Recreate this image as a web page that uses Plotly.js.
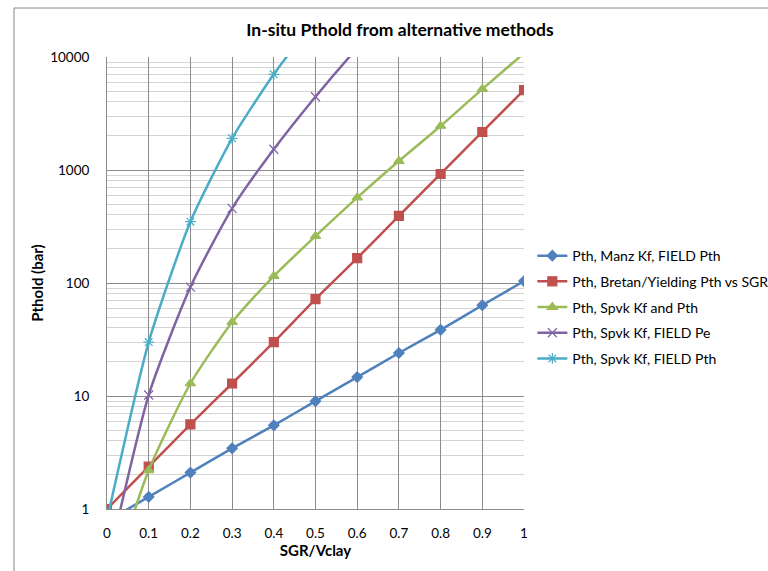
<!DOCTYPE html>
<html>
<head>
<meta charset="utf-8">
<script src="https://cdn.plot.ly/plotly-3.0.1.min.js"></script>
<style>html,body{margin:0;padding:0;background:#fff;}#chart{width:768px;height:571px;}</style>
</head>
<body>
<div id="chart"></div>
<script>
const sgr = [0, 0.1, 0.2, 0.3, 0.4, 0.5, 0.6, 0.7, 0.8, 0.9, 1];
const manzField = [0.78, 1.28, 2.1, 3.44, 5.5, 9.0, 14.7, 24, 38.5, 63.5, 104];
const bretanYielding = [1, 2.37, 5.6, 12.9, 30, 72, 166, 392, 922, 2170, 5100];
const spvkKfPth = [0.17, 2.2, 12.9, 45, 115, 260, 570, 1200, 2450, 5200, 10800];
const spvkFieldPe = [0.3, 10.2, 92, 458, 1525, 4450, 12000, 30000, 70000, 160000, 350000];
const spvkFieldPth = [0.8, 30, 349, 1906, 7030, 21000, 55000, 130000, 300000, 650000, 1400000];
const seriesNames = ['Pth, Manz Kf, FIELD Pth', 'Pth, Bretan/Yielding Pth vs SGR', 'Pth, Spvk Kf and Pth', 'Pth, Spvk Kf, FIELD Pe', 'Pth, Spvk Kf, FIELD Pth'];
const yTickVals = [1, 10, 100, 1000, 10000];
const yTickText = ['1', '10', '100', '1000', '10000'];
const xTickVals = [0, 0.1, 0.2, 0.3, 0.4, 0.5, 0.6, 0.7, 0.8, 0.9, 1];
const xTickText = ['0', '0.1', '0.2', '0.3', '0.4', '0.5', '0.6', '0.7', '0.8', '0.9', '1'];

const colors = ['#4F81BD', '#C0504D', '#9BBB59', '#8064A2', '#4BACC6'];
const symbols = ['diamond', 'square', 'triangle-up', 'x-thin-open', 'asterisk-open'];
const sizes = [8, 9, 9, 9, 9];
const allY = [manzField, bretanYielding, spvkKfPth, spvkFieldPe, spvkFieldPth];

const traces = allY.map((y, i) => ({
  x: sgr, y: y, name: seriesNames[i], type: 'scatter', mode: 'lines+markers',
  line: {color: colors[i], width: 2.5, shape: 'spline', smoothing: 0.6},
  marker: {symbol: symbols[i], size: sizes[i], color: colors[i], line: {color: colors[i], width: 1.2}},
  legendgroup: 'g' + i, cliponaxis: true
}));

const font = 'Lato, "Open Sans", "Liberation Sans", sans-serif';
const layout = {
  width: 768, height: 571,
  margin: {l: 107, r: 244, t: 57, b: 62, autoexpand: false},
  paper_bgcolor: '#fff', plot_bgcolor: '#fff',
  font: {family: font, size: 13, color: '#000'},
  title: {text: '<b>In-situ Pthold from alternative methods</b>', font: {family: font, size: 17.5, color: '#000'}, x: 400/768, xanchor: 'center', y: 1 - 30/571, yanchor: 'middle'},
  xaxis: {
    range: [0, 1], tickvals: xTickVals, ticktext: xTickText,
    showgrid: true, gridcolor: '#8c8c8c', gridwidth: 1,
    showline: true, linecolor: '#8c8c8c', linewidth: 1, mirror: false,
    zeroline: false, ticks: '', ticklabelstandoff: 12,
    tickfont: {family: font, size: 13.5, color: '#000'},
    title: {text: '<b>SGR/Vclay</b>', font: {family: font, size: 15, color: '#000'}, standoff: 5}
  },
  yaxis: {
    type: 'log', range: [0, 4], tickvals: yTickVals, ticktext: yTickText,
    showgrid: true, gridcolor: '#8c8c8c', gridwidth: 1,
    minor: {showgrid: true, gridcolor: '#d4d4d4', gridwidth: 1, dtick: 'D1', ticks: ''},
    showline: true, linecolor: '#8c8c8c', linewidth: 1,
    zeroline: false, ticks: '', ticklabelstandoff: 14,
    tickfont: {family: font, size: 13.5, color: '#000'},
    title: {text: '<b>Pthold (bar)</b>', font: {family: font, size: 15, color: '#000'}, standoff: 2}
  },
  legend: {
    x: 1.02, xanchor: 'left', y: 0.595, yanchor: 'top',
    font: {family: font, size: 14, color: '#000'},
    bgcolor: 'rgba(0,0,0,0)', tracegroupgap: 4.5, traceorder: 'grouped',
    itemwidth: 30
  },
  showlegend: true,
  shapes: [{
    type: 'rect', xref: 'paper', yref: 'paper',
    x0: (14 - 107) / 417, x1: 1.7, y0: -0.3, y1: (509 - 8) / 452,
    line: {color: '#868686', width: 1}, layer: 'below'
  }]
};

Plotly.newPlot('chart', traces, layout, {displayModeBar: false, staticPlot: true});
</script>
</body>
</html>
